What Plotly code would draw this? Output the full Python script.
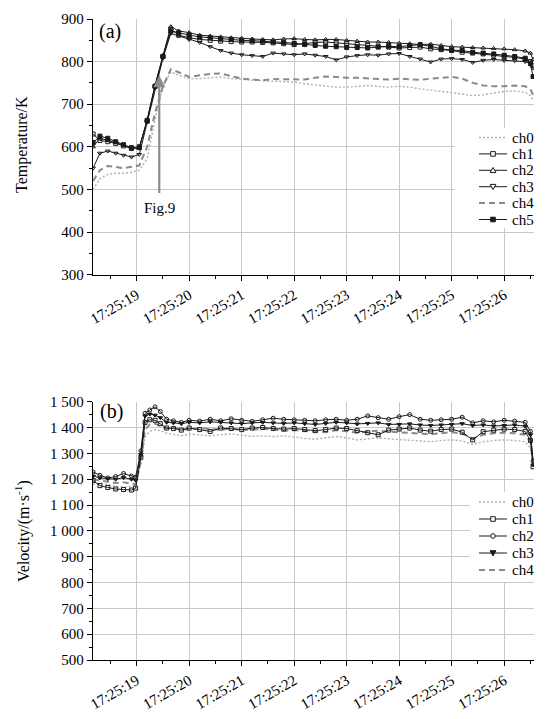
import plotly.graph_objects as go

# ---------------- data ----------------
BASE = "2000-01-01 17:25:"

temp_t = [18.17, 18.3, 18.45, 18.6, 18.75, 18.9, 19.05, 19.2, 19.35, 19.5, 19.65, 19.8,
          20.0, 20.2, 20.4, 20.6, 20.8, 21.0, 21.2, 21.4, 21.6, 21.8,
          22.0, 22.2, 22.4, 22.6, 22.8, 23.0, 23.2, 23.4, 23.6, 23.8,
          24.0, 24.2, 24.4, 24.6, 24.8, 25.0, 25.2, 25.4, 25.6, 25.8,
          26.0, 26.2, 26.4, 26.5, 26.55]

temp_ch0 = [500, 525, 535, 538, 538, 540, 545, 572, 665, 742, 776, 768,
            760, 760, 762, 764, 760, 758, 756, 755, 754, 753,
            752, 748, 745, 742, 740, 740, 742, 744, 742, 740,
            742, 740, 736, 733, 730, 728, 724, 720, 722, 726,
            730, 731, 728, 720, 708]
temp_ch1 = [630, 615, 612, 608, 602, 596, 598, 662, 742, 812, 876, 862,
            856, 852, 850, 848, 847, 846, 846, 845, 844, 842,
            840, 842, 845, 846, 844, 842, 840, 838, 835, 834,
            832, 833, 834, 830, 828, 826, 822, 820, 818, 815,
            812, 810, 806, 800, 790]
temp_ch2 = [600, 620, 615, 610, 603, 597, 596, 664, 745, 815, 882, 872,
            868, 862, 860, 858, 856, 855, 853, 852, 851, 853,
            854, 852, 851, 852, 852, 850, 848, 846, 846, 845,
            843, 842, 840, 841, 838, 835, 834, 833, 832, 831,
            830, 828, 825, 820, 805]
temp_ch3 = [550, 585, 590, 585, 580, 576, 582, 658, 738, 808, 866, 860,
            852, 845, 835, 826, 820, 816, 814, 812, 820, 818,
            816, 818, 815, 812, 804, 811, 814, 816, 815, 818,
            819, 812, 806, 799, 806, 807, 805, 798, 803, 805,
            803, 802, 800, 795, 785]
temp_ch4 = [520, 545, 555, 552, 550, 553, 556, 600, 680, 742, 782, 775,
            764, 768, 771, 772, 766, 760, 758, 756, 759, 759,
            758, 758, 762, 765, 764, 762, 762, 761, 760, 758,
            760, 758, 757, 760, 762, 764, 760, 750, 744, 742,
            742, 744, 742, 735, 722]
temp_ch5 = [610, 625, 620, 612, 605, 598, 600, 660, 742, 812, 872, 868,
            862, 858, 856, 853, 852, 850, 849, 848, 846, 845,
            843, 840, 838, 836, 835, 833, 833, 832, 834, 836,
            835, 838, 840, 836, 830, 827, 826, 822, 820, 818,
            815, 812, 808, 795, 765]

vel_t = [18.17, 18.3, 18.45, 18.6, 18.75, 18.9, 18.98, 19.08, 19.16, 19.25, 19.35, 19.45, 19.57, 19.7, 19.85,
         20.0, 20.2, 20.4, 20.6, 20.8, 21.0, 21.2, 21.4, 21.6, 21.8,
         22.0, 22.2, 22.4, 22.6, 22.8, 23.0, 23.2, 23.4, 23.6, 23.8,
         24.0, 24.2, 24.4, 24.6, 24.8, 25.0, 25.2, 25.4, 25.6, 25.8,
         26.0, 26.2, 26.4, 26.5, 26.55]

vel_ch0 = [1180, 1185, 1180, 1172, 1170, 1172, 1178, 1260, 1365, 1385, 1392, 1388, 1378, 1372, 1368,
           1375, 1372, 1368, 1372, 1375, 1370, 1366, 1368, 1365, 1368,
           1362, 1358, 1355, 1360, 1365, 1360, 1352, 1356, 1360, 1356,
           1354, 1352, 1348, 1345, 1350, 1352, 1348, 1335, 1345, 1350,
           1352, 1350, 1345, 1320, 1285]
vel_ch1 = [1195, 1175, 1168, 1162, 1160, 1158, 1165, 1285, 1420, 1430, 1428, 1415, 1398, 1396, 1390,
           1398, 1392, 1385, 1398, 1396, 1392, 1398, 1400, 1396, 1394,
           1396, 1392, 1388, 1392, 1398, 1396, 1388, 1380, 1372, 1390,
           1394, 1398, 1390, 1386, 1392, 1394, 1382, 1352, 1384, 1390,
           1394, 1392, 1385, 1350, 1248]
vel_ch2 = [1228, 1215, 1205, 1210, 1222, 1212, 1208, 1310, 1455, 1468, 1480, 1462, 1432, 1426, 1420,
           1428, 1425, 1432, 1426, 1434, 1428, 1424, 1430, 1436, 1432,
           1430, 1428, 1426, 1430, 1432, 1428, 1432, 1445, 1438, 1432,
           1442, 1450, 1432, 1428, 1430, 1432, 1440, 1418, 1426, 1422,
           1428, 1425, 1420, 1385, 1270]
vel_ch3 = [1212, 1205, 1202, 1200, 1206, 1200, 1196, 1295, 1445, 1452, 1448, 1438, 1420, 1418, 1415,
           1420, 1418, 1422, 1420, 1418, 1415, 1418, 1420, 1418, 1416,
           1418, 1415, 1412, 1416, 1420, 1418, 1414, 1416, 1418, 1412,
           1412, 1414, 1410, 1408, 1410, 1412, 1415, 1408, 1410, 1406,
           1408, 1410, 1405, 1372, 1255]
vel_ch4 = [1200, 1195, 1190, 1185, 1188, 1182, 1180, 1270, 1392, 1412, 1415, 1405, 1396, 1400, 1394,
           1392, 1398, 1394, 1392, 1396, 1390, 1392, 1395, 1392, 1388,
           1390, 1386, 1384, 1382, 1390, 1386, 1380, 1384, 1388, 1384,
           1382, 1380, 1376, 1374, 1378, 1382, 1376, 1358, 1372, 1378,
           1380, 1378, 1372, 1345, 1262]

temp_names = ["ch0", "ch1", "ch2", "ch3", "ch4", "ch5"]
vel_names = ["ch0", "ch1", "ch2", "ch3", "ch4"]
temp_series = [temp_ch0, temp_ch1, temp_ch2, temp_ch3, temp_ch4, temp_ch5]
vel_series = [vel_ch0, vel_ch1, vel_ch2, vel_ch3, vel_ch4]

for s in temp_series:
    assert len(s) == len(temp_t)
for s in vel_series:
    assert len(s) == len(vel_t)

temp_title = "Temperature/K"
vel_title = "Velocity/(m·s<sup>-1</sup>)"
fig_note = "Fig.9"
fig_note_t, fig_note_tail, fig_note_head = 19.43, 488, 768

# ---------------- layout helpers ----------------
W, H = 546, 719
ML, MR, MT, MB = 93, 12, 19, 59
PW = W - ML - MR
PH = H - MT - MB


def px_x(px):
    return (px - ML) / PW


def px_y(py):
    return (H - MB - py) / PH


def tstr(s):
    return f"{BASE}{s:06.3f}"


FONT = "Liberation Serif, Times New Roman, serif"
BLACK = "#1a1a1a"
STY_TOP = {
    "ch0": dict(color="#b0b0b0", width=1.4, dash="2px,2px", symbol=None),
    "ch1": dict(color=BLACK, width=1.0, dash="solid", symbol="square-open"),
    "ch2": dict(color=BLACK, width=1.0, dash="solid", symbol="triangle-up-open"),
    "ch3": dict(color=BLACK, width=1.0, dash="solid", symbol="triangle-down-open"),
    "ch4": dict(color="#8a8a8a", width=2.0, dash="6px,4px", symbol=None),
    "ch5": dict(color=BLACK, width=1.0, dash="solid", symbol="square"),
}
STY_BOT = dict(STY_TOP)
STY_BOT["ch2"] = dict(color=BLACK, width=1.0, dash="solid", symbol="circle-open")
STY_BOT["ch3"] = dict(color=BLACK, width=1.0, dash="solid", symbol="triangle-down")

draw_order = ["ch0", "ch4", "ch3", "ch1", "ch2", "ch5"]

fig = go.Figure()


def add_series(names, series, times, sty, xa, ya):
    lookup = dict(zip(names, series))
    xs = [tstr(s) for s in times]
    for n in draw_order:
        if n not in lookup:
            continue
        st = sty[n]
        mode = "lines+markers" if st["symbol"] else "lines"
        fig.add_trace(go.Scatter(
            x=xs, y=lookup[n], name=n, mode=mode, xaxis=xa, yaxis=ya,
            line=dict(color=st["color"], width=st["width"], dash=st["dash"]),
            marker=dict(symbol=st["symbol"] or "circle", size=4, color=st["color"],
                        line=dict(width=1, color=st["color"])),
            showlegend=False, hoverinfo="skip",
        ))


add_series(temp_names, temp_series, temp_t, STY_TOP, "x", "y")
add_series(vel_names, vel_series, vel_t, STY_BOT, "x2", "y2")

GRID = "#c8c8c8"
xcommon = dict(
    type="date", range=[tstr(18.168), tstr(26.568)], tickformat="%H:%M:%S",
    tick0=tstr(19.0), dtick=1000, tickangle=-30, automargin=False,
    ticks="outside", ticklen=5, tickwidth=1, tickcolor="black",
    showline=True, linecolor="black", linewidth=1.2,
    showgrid=True, gridcolor=GRID, gridwidth=1, zeroline=False,
    minor=dict(ticks="outside", ticklen=3, dtick=500, tickcolor="black", showgrid=False),
    tickfont=dict(family=FONT, size=15, color="black"),
)
ycommon = dict(
    ticks="outside", ticklen=5, tickwidth=1, tickcolor="black", automargin=False,
    showline=True, linecolor="black", linewidth=1.2,
    showgrid=True, gridcolor=GRID, gridwidth=1, zeroline=False,
    minor=dict(ticks="outside", ticklen=3, dtick=50, tickcolor="black", showgrid=False),
    tickfont=dict(family=FONT, size=15, color="black"),
)

fig.update_layout(
    template="none",
    width=W, height=H, margin=dict(l=ML, r=MR, t=MT, b=MB, autoexpand=False),
    paper_bgcolor="white", plot_bgcolor="white", showlegend=False,
    font=dict(family=FONT, size=15, color="black"),
    separators=". ", hovermode=False,
    xaxis=dict(domain=[0, 1], anchor="y", **xcommon),
    yaxis=dict(domain=[px_y(274.6), 1.0], anchor="x", range=[300, 900], dtick=100, **ycommon),
    xaxis2=dict(domain=[0, 1], anchor="y2", **xcommon),
    yaxis2=dict(domain=[0.0, px_y(401.7)], anchor="x2", range=[500, 1500], dtick=100,
                separatethousands=True, **ycommon),
)

CM = dict(xanchor="center", yanchor="middle", showarrow=False)
annotations = [
    dict(text=temp_title, xref="paper", yref="paper", x=px_x(22), y=px_y(145),
         textangle=-90, font=dict(family=FONT, size=16), **CM),
    dict(text=vel_title, xref="paper", yref="paper", x=px_x(22), y=px_y(531),
         textangle=-90, font=dict(family=FONT, size=16), **CM),
    dict(text="(a)", xref="paper", yref="paper", x=px_x(110), y=px_y(32),
         font=dict(family=FONT, size=20), **CM),
    dict(text="(b)", xref="paper", yref="paper", x=px_x(111), y=px_y(411),
         font=dict(family=FONT, size=20), **CM),
    dict(text="", xref="x", yref="y", x=tstr(fig_note_t), y=fig_note_head,
         axref="x", ayref="y", ax=tstr(fig_note_t), ay=fig_note_tail,
         showarrow=True, arrowhead=2, arrowsize=1.1, arrowwidth=2.2,
         arrowcolor="#8c8c8c", standoff=0),
    dict(text=fig_note, xref="x", yref="y", x=tstr(fig_note_t + 0.01), y=fig_note_tail - 32,
         font=dict(family=FONT, size=15), **CM),
]

shapes = []


def marker_shape(symbol, cx, cy, color):
    r = 2.3
    if symbol is None:
        return []
    if symbol.startswith("square") or symbol.startswith("circle"):
        filled = not symbol.endswith("open")
        return [dict(type="rect" if symbol.startswith("square") else "circle",
                     xref="paper", yref="paper",
                     x0=px_x(cx - r), x1=px_x(cx + r), y0=px_y(cy + r), y1=px_y(cy - r),
                     line=dict(color=color, width=1),
                     fillcolor=color if filled else "white", layer="above")]
    filled = not symbol.endswith("open")
    k = 1.25
    if symbol.startswith("triangle-up"):
        pts = [(cx, cy - r * k), (cx + r * k, cy + r), (cx - r * k, cy + r)]
    else:
        pts = [(cx, cy + r * k), (cx + r * k, cy - r), (cx - r * k, cy - r)]
    path = "M " + " L ".join(f"{px_x(x):.5f},{px_y(y):.5f}" for x, y in pts) + " Z"
    return [dict(type="path", xref="paper", yref="paper", path=path,
                 line=dict(color=color, width=1),
                 fillcolor=color if filled else "white", layer="above")]


def add_legend(names, sty, y0, step, box):
    bx0, by0, bx1, by1 = box
    shapes.append(dict(type="rect", xref="paper", yref="paper",
                       x0=px_x(bx0), x1=px_x(bx1), y0=px_y(by1), y1=px_y(by0),
                       line=dict(width=0), fillcolor="white", layer="above"))
    for i, n in enumerate(names):
        st = sty[n]
        cy = y0 + step * i
        shapes.append(dict(type="line", xref="paper", yref="paper",
                           x0=px_x(479), x1=px_x(507), y0=px_y(cy), y1=px_y(cy),
                           line=dict(color=st["color"], width=st["width"], dash=st["dash"]),
                           layer="above"))
        shapes.extend(marker_shape(st["symbol"], 493, cy, st["color"]))
        annotations.append(dict(text=n, xref="paper", yref="paper", x=px_x(510), y=px_y(cy),
                                xanchor="left", yanchor="middle", showarrow=False,
                                font=dict(family=FONT, size=15)))


add_legend(temp_names, STY_TOP, 137.5, 16.4, (455, 128, 541, 228))
add_legend(vel_names, STY_BOT, 502, 17.0, (470, 492, 541, 582))

fig.update_layout(annotations=annotations, shapes=shapes)

fig.write_html(
    "out.html",
    config={"displayModeBar": False, "staticPlot": True},
    post_script="document.body.style.margin='0';document.documentElement.style.overflow='hidden';",
)
